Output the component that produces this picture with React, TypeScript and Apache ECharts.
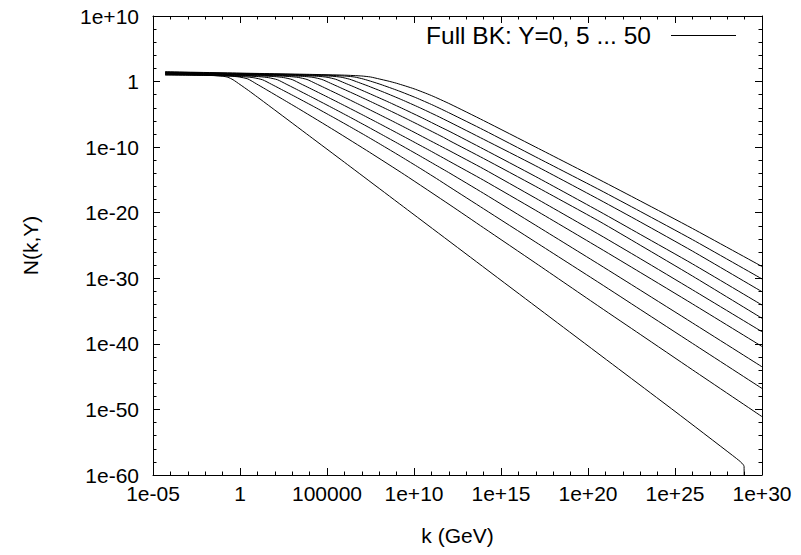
import React, { useEffect, useRef } from 'react';
import * as echarts from 'echarts';

const LEGEND_LABEL = 'Full BK: Y=0, 5 ... 50';
const X_NAME = 'k (GeV)';
const Y_NAME = 'N(k,Y)';
const FONT = "'Liberation Sans', Arial, Helvetica, sans-serif";
const FONT_SIZE = 21;
const LEGEND_FONT_SIZE = 24.5;

// Tick positions are decades (log10); labels as printed on the plot
const xTickExponents = [-5, 0, 5, 10, 15, 20, 25, 30];
const xTickLabels = ['1e-05', '1', '100000', '1e+10', '1e+15', '1e+20', '1e+25', '1e+30'];
const yTickExponents = [-60, -50, -40, -30, -20, -10, 0, 10];
const yTickLabels = ['1e-60', '1e-50', '1e-40', '1e-30', '1e-20', '1e-10', '1', '1e+10'];

const rapidities = [0, 5, 10, 15, 20, 25, 30, 35, 40, 45, 50];

// Each curve: log10(k / GeV) and log10(N)
const y0LogK = [-4.3, -3, -2, -1.5, -1, -0.7, -0.4, 0, 0.5, 1, 2, 4, 6, 10, 15, 20, 25, 28.3, 28.75, 28.93, 28.97, 28.975];
const y0LogN = [1.0, 0.98, 0.95, 0.91, 0.82, 0.66, 0.28, -0.45, -1.38, -2.36, -4.34, -8.32, -12.3, -20.3, -30.3, -40.3, -50.3, -57.0, -57.95, -58.45, -58.7, -62];

const y5LogK = [-4.3, -2, -1.55, -0.55, -0.05, 0.45, 0.95, 1.45, 2.45, 3.45, 5.45, 7.45, 9.45, 12.07, 14, 17, 20.69, 23, 26, 30];
const y5LogN = [1.05, 0.98, 0.93, 0.83, 0.7, 0.4, -0.36, -1.13, -2.69, -4.26, -7.48, -10.79, -14.19, -18.82, -22.3, -27.7, -34.4, -38.55, -43.95, -51.1];

const y10LogK = [-4.3, -2, -0.7, 0.3, 0.8, 1.3, 1.8, 2.3, 3.3, 4.3, 5.3, 6.3, 7.3, 8.3, 9.3, 10.3, 11.3, 12.07, 14, 17, 20.69, 23, 26, 30];
const y10LogN = [1.1, 0.97, 0.86, 0.73, 0.58, 0.27, -0.4, -1.09, -2.48, -3.9, -5.36, -6.85, -8.37, -9.93, -11.52, -13.14, -14.8, -16.12, -19.4, -24.5, -30.77, -34.75, -39.92, -46.8];

const y15LogK = [-4.3, -2, 0.15, 1.15, 1.65, 2.15, 2.65, 3.15, 4.15, 5.15, 6.15, 7.15, 8.15, 9.15, 10.15, 11.15, 12.07, 14, 17, 20.69, 23, 26, 30];
const y15LogN = [1.15, 1.02, 0.87, 0.74, 0.59, 0.28, -0.38, -1.05, -2.41, -3.79, -5.19, -6.62, -8.08, -9.55, -11.05, -12.58, -13.99, -17.05, -21.93, -27.97, -31.8, -36.8, -43.5];

const y20LogK = [-4.3, -1, 1, 2, 2.5, 3, 3.5, 4, 5, 6, 7, 8, 9, 10, 11, 12.07, 14, 17, 20.69, 23, 26, 30];
const y20LogN = [1.2, 1.02, 0.88, 0.76, 0.61, 0.3, -0.35, -1.0, -2.32, -3.66, -5.02, -6.4, -7.8, -9.22, -10.65, -12.22, -15.05, -19.65, -25.43, -29.1, -33.9, -40.4];

const y25LogK = [-4.3, -1, 1, 1.85, 2.85, 3.35, 3.85, 4.35, 4.85, 5.85, 6.85, 7.85, 8.85, 9.85, 10.85, 12.07, 14, 17, 20.69, 23, 26, 30];
const y25LogN = [1.25, 1.08, 0.97, 0.9, 0.77, 0.63, 0.32, -0.3, -0.93, -2.2, -3.5, -4.82, -6.15, -7.51, -8.9, -10.59, -13.32, -17.8, -23.4, -27.0, -31.75, -38.15];

const y30LogK = [-4.3, 0, 1.5, 2.7, 3.7, 4.2, 4.7, 5.2, 5.7, 6.7, 7.7, 8.7, 9.7, 10.7, 11.7, 12.07, 14, 17, 20.69, 23, 26, 30];
const y30LogN = [1.3, 1.08, 1.0, 0.9, 0.78, 0.64, 0.33, -0.25, -0.85, -2.05, -3.29, -4.55, -5.84, -7.17, -8.52, -9.06, -11.73, -16.0, -21.37, -24.95, -29.65, -36.1];

const y35LogK = [-4.3, 0, 2, 3.5, 4.5, 5, 5.5, 6, 6.5, 7.5, 8.5, 9.5, 10.5, 11.5, 12.07, 14, 17, 20.69, 23, 26, 30];
const y35LogN = [1.35, 1.13, 1.03, 0.92, 0.8, 0.66, 0.35, -0.2, -0.75, -1.9, -3.08, -4.31, -5.58, -6.9, -7.64, -10.3, -14.5, -19.85, -23.3, -27.8, -34.08];

const y40LogK = [-4.3, 0, 3, 4.3, 5.3, 5.8, 6.3, 6.8, 7.3, 8.3, 9.3, 10.3, 11.3, 12.07, 14, 17, 20.69, 23, 26, 30];
const y40LogN = [1.4, 1.18, 1.03, 0.93, 0.81, 0.67, 0.36, -0.12, -0.61, -1.66, -2.77, -3.95, -5.2, -6.21, -8.8, -12.86, -18.06, -21.4, -25.85, -32.05];

const y45LogK = [-4.3, 0, 3, 5, 6.1, 6.6, 7.1, 7.6, 8.1, 9.1, 10.1, 11.1, 12.07, 14, 17, 20.69, 23, 26, 30];
const y45LogN = [1.45, 1.24, 1.09, 0.96, 0.83, 0.69, 0.38, -0.02, -0.45, -1.4, -2.45, -3.61, -4.84, -7.38, -11.5, -16.54, -19.8, -24.1, -30.1];

const y50LogK = [-4.3, 0, 4, 6, 7, 7.5, 8, 8.5, 9, 10, 11, 12.07, 14, 17, 20.69, 23, 26, 30];
const y50LogN = [1.5, 1.29, 1.1, 0.98, 0.85, 0.7, 0.4, 0.09, -0.26, -1.1, -2.13, -3.42, -5.95, -10.0, -15.01, -18.2, -22.4, -28.2];

const curveLogK = [y0LogK, y5LogK, y10LogK, y15LogK, y20LogK, y25LogK, y30LogK, y35LogK, y40LogK, y45LogK, y50LogK];
const curveLogN = [y0LogN, y5LogN, y10LogN, y15LogN, y20LogN, y25LogN, y30LogN, y35LogN, y40LogN, y45LogN, y50LogN];

const textStyle = { fontFamily: FONT, fontSize: FONT_SIZE, color: '#000' };

function tickLabel(exps: number[], labels: string[]) {
  return (v: number) => {
    const i = exps.indexOf(Math.round(v));
    return i >= 0 ? labels[i] : '';
  };
}

function makeAxis(kind: 'x' | 'y', position: string, showLabels: boolean) {
  const isX = kind === 'x';
  const axis: any = {
    type: 'value',
    position,
    min: isX ? -5 : -60,
    max: isX ? 30 : 10,
    interval: isX ? 5 : 10,
    axisLine: { show: true, onZero: false, lineStyle: { color: '#000', width: 1 } },
    axisTick: { show: true, inside: true, length: 7, lineStyle: { color: '#000', width: 1 } },
    minorTick: { show: true, splitNumber: 5, length: 3.5, lineStyle: { color: '#000', width: 1 } },
    splitLine: { show: false },
    minorSplitLine: { show: false },
    axisLabel: {
      show: showLabels,
      ...textStyle,
      margin: isX ? 8 : 14,
      formatter: isX ? tickLabel(xTickExponents, xTickLabels) : tickLabel(yTickExponents, yTickLabels),
    },
  };
  if (showLabels) {
    axis.name = isX ? X_NAME : Y_NAME;
    axis.nameLocation = 'middle';
    axis.nameGap = isX ? 50 : 112;
    axis.nameTextStyle = { ...textStyle };
    if (!isX) axis.nameRotate = 90;
  }
  return axis;
}

export default function App() {
  const ref = useRef<HTMLDivElement>(null);
  useEffect(() => {
    if (!ref.current) return;
    const chart = echarts.init(ref.current, undefined, { renderer: 'svg' });
    const series = rapidities.map((y, idx) => ({
      type: 'line',
      name: LEGEND_LABEL,
      data: curveLogK[idx].map((k, i) => [k, curveLogN[idx][i]]),
      showSymbol: false,
      symbol: 'none',
      smooth: 0.2,
      clip: true,
      lineStyle: { color: '#000', width: 1 },
      itemStyle: { color: '#000' },
      z: 3,
    }));
    chart.setOption({
      animation: false,
      backgroundColor: '#fff',
      grid: { left: 153, right: 39, top: 16, bottom: 80, containLabel: false },
      legend: {
        data: [{ name: LEGEND_LABEL, icon: 'rect' }],
        right: 60,
        top: 18,
        align: 'right',
        itemWidth: 65,
        itemHeight: 1,
        selectedMode: false,
        itemStyle: { color: '#000', borderWidth: 0 },
        textStyle: { fontFamily: FONT, fontSize: LEGEND_FONT_SIZE, color: '#000', padding: [0, 15, 0, 0] },
      },
      xAxis: [makeAxis('x', 'bottom', true), makeAxis('x', 'top', false)],
      yAxis: [makeAxis('y', 'left', true), makeAxis('y', 'right', false)],
      series,
    });
    return () => chart.dispose();
  }, []);
  return <div ref={ref} style={{ width: 801, height: 555, position: 'absolute', left: 0, top: 0 }} />;
}
